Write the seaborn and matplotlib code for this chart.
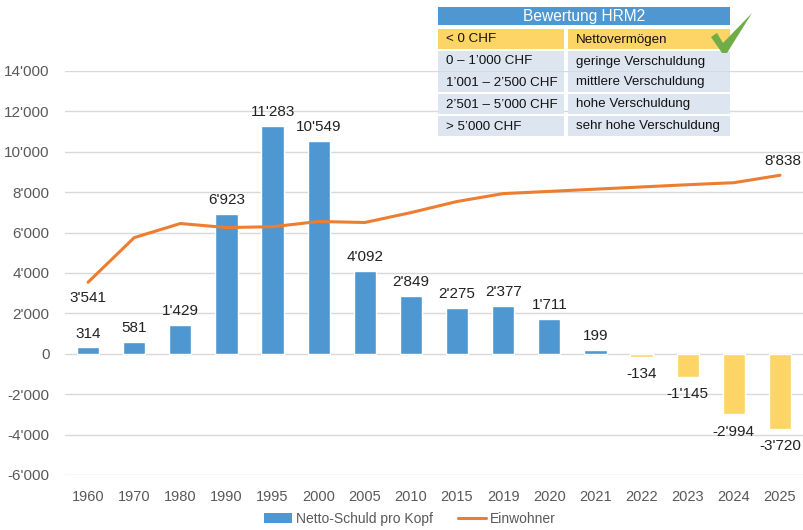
import numpy as np
import pandas as pd
import seaborn as sns
import matplotlib.pyplot as plt
from matplotlib.patches import Rectangle, Polygon, Patch
from matplotlib.lines import Line2D

# Daten
jahre = ['1960', '1970', '1980', '1990', '1995', '2000', '2005', '2010',
         '2015', '2019', '2020', '2021', '2022', '2023', '2024', '2025']
schuld = [314, 581, 1429, 6923, 11283, 10549, 4092, 2849,
          2275, 2377, 1711, 199, -134, -1145, -2994, -3720]
einwohner = [3541, 5750, 6450, 6250, 6290, 6550, 6500, 6990,
             7540, 7930, 8040, 8150, 8260, 8370, 8470, 8838]

tabelle_links = ['< 0 CHF', '0 \u2013 1\u2019000 CHF', '1\u2019001 \u2013 2\u2019500 CHF',
                 '2\u2019501 \u2013 5\u2019000 CHF', '> 5\u2019000 CHF']
tabelle_rechts = ['Nettoverm\u00f6gen', 'geringe Verschuldung', 'mittlere Verschuldung',
                  'hohe Verschuldung', 'sehr hohe Verschuldung']

blau = '#4f97d1'
gelb = '#fdd466'
orange = '#ed7d31'
grau = '#595959'


def fmt(v):
    return f"{v:,}".replace(",", "'")


sns.set_theme(style='white')
plt.rcParams['font.family'] = ['Liberation Sans', 'DejaVu Sans']

W, H = 804, 530
fig = plt.figure(figsize=(W / 100, H / 100), dpi=100)
ax = fig.add_axes([65 / W, 1 - 475 / H, (803 - 65) / W, (475 - 71) / H])

df = pd.DataFrame({'Jahr': jahre, 'Schuld': schuld,
                   'Art': ['pos' if v >= 0 else 'neg' for v in schuld]})
sns.barplot(data=df, x='Jahr', y='Schuld', hue='Art',
            palette={'pos': blau, 'neg': gelb}, width=0.48, dodge=False,
            legend=False, ax=ax, saturation=1)
sns.lineplot(x=np.arange(len(jahre)), y=einwohner, color=orange,
             linewidth=2.2, ax=ax)

ax.set_xlim(-0.5, len(jahre) - 0.5)
ax.set_ylim(-6000, 14000)
ax.set_yticks(np.arange(-6000, 14001, 2000))
ax.set_yticklabels([fmt(v) for v in range(-6000, 14001, 2000)])
ax.grid(axis='y', color='#d9d9d9', linewidth=1)
ax.set_axisbelow(True)
for s in ax.spines.values():
    s.set_visible(False)
ax.tick_params(axis='both', length=0, colors=grau)
ax.tick_params(axis='x', pad=11, labelsize=10.5)
ax.tick_params(axis='y', pad=11, labelsize=11)
ax.set_xlabel('')
ax.set_ylabel('')

lab_font = ['Liberation Sans Narrow', 'Liberation Sans', 'DejaVu Sans']
for i, v in enumerate(schuld):
    if v >= 0:
        ax.annotate(fmt(v), (i, v), xytext=(0, 5), textcoords='offset points',
                    ha='center', va='bottom', fontsize=11, color='#222222',
                    family=lab_font)
    else:
        ax.annotate(fmt(v), (i, v), xytext=(0, -7.5), textcoords='offset points',
                    ha='center', va='top', fontsize=11, color='#222222',
                    family=lab_font)

ax.annotate(fmt(einwohner[0]), (0, einwohner[0]), xytext=(0, -6),
            textcoords='offset points', ha='center', va='top', fontsize=11,
            color='#222222', family=lab_font)
ax.annotate(fmt(einwohner[-1]), (len(jahre) - 1, einwohner[-1]), xytext=(2, 5),
            textcoords='offset points', ha='center', va='bottom', fontsize=11,
            color='#222222', family=lab_font, annotation_clip=False)

# Legende
handles = [Patch(facecolor=blau, edgecolor='none'),
           Line2D([0], [0], color=orange, linewidth=2.2)]
fig.legend(handles, ['Netto-Schuld pro Kopf', 'Einwohner'], loc='center',
           bbox_to_anchor=(0.51, 1 - 519 / H), ncol=2, frameon=False,
           fontsize=10, labelcolor=grau, handlelength=2.0, columnspacing=1.8,
           handletextpad=0.3)


# Tabelle oben rechts
def rect(x0, y0, x1, y1, color):
    fig.patches.append(Rectangle((x0 / W, 1 - y1 / H), (x1 - x0) / W, (y1 - y0) / H,
                                 transform=fig.transFigure, facecolor=color,
                                 edgecolor='none', zorder=5))


rect(438, 7, 730, 25, blau)
fig.text(584 / W, 1 - 16 / H, 'Bewertung HRM2', ha='center', va='center',
         color='white', fontsize=11.2, zorder=6)
row_top = [29, 51, 72, 94, 116]
for k, (a, b) in enumerate(zip(tabelle_links, tabelle_rechts)):
    y0 = row_top[k]
    y1 = y0 + 20
    c = gelb if k == 0 else '#dde6f0'
    rect(438, y0, 564, y1, c)
    rect(568, y0, 730, y1, c)
    fig.text(446 / W, 1 - (y0 + 10.5) / H, a, ha='left', va='center',
             color='#111111', fontsize=9.6, zorder=6)
    fig.text(576 / W, 1 - (y0 + 10.5) / H, b, ha='left', va='center',
             color='#111111', fontsize=9.6, zorder=6)

haken = [(711, 37), (717, 33), (723, 43), (752, 13), (727, 53), (722, 53)]
fig.patches.append(Polygon([(x / W, 1 - y / H) for x, y in haken], closed=True,
                           transform=fig.transFigure, facecolor='#70ad47',
                           edgecolor='none', zorder=7))

fig.savefig('out.png', dpi=100)
